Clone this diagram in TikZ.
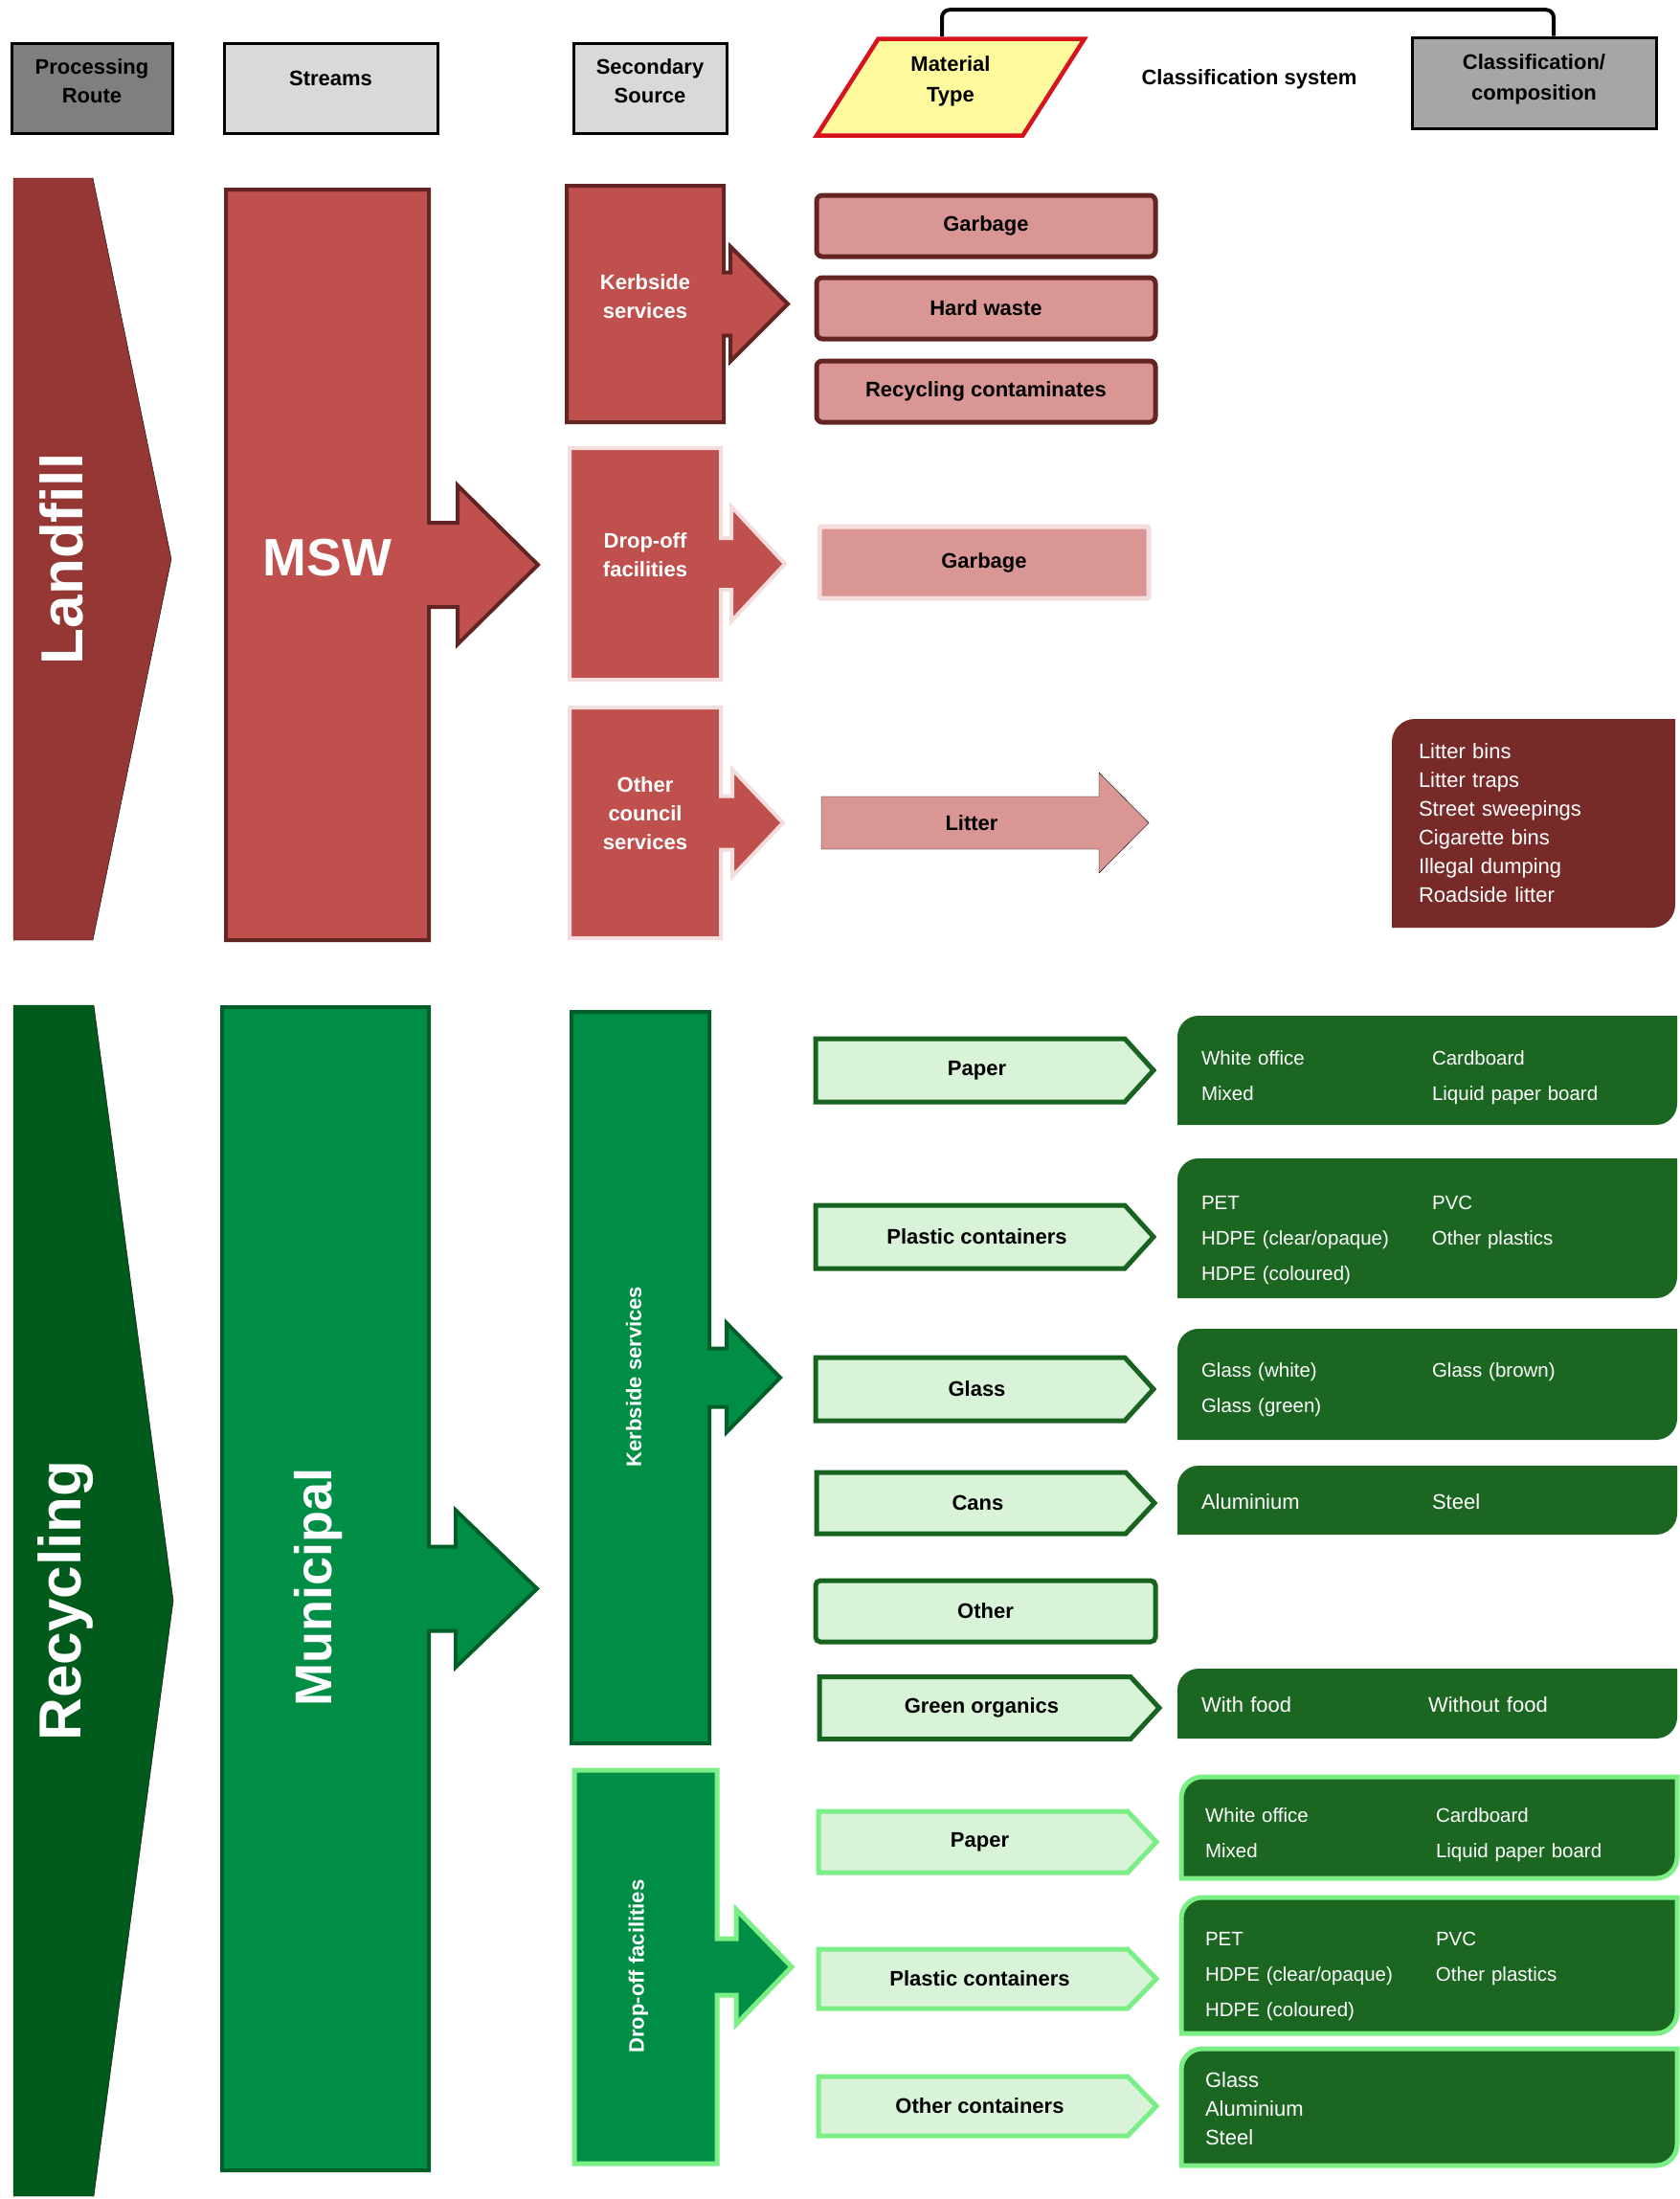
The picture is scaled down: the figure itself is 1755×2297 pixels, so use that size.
\documentclass[tikz,border=0pt]{standalone}
\usepackage{fontspec}
\setmainfont{Liberation Sans}
\usetikzlibrary{calc,shapes.geometric,backgrounds}

\definecolor{redmain}{HTML}{C0504D}
\definecolor{reddark}{HTML}{632523}
\definecolor{redpink}{HTML}{D99694}
\definecolor{redglow}{HTML}{F4DEDD}
\definecolor{landred}{HTML}{953735}
\definecolor{litterbrown}{HTML}{772A28}
\definecolor{recydark}{HTML}{005A1C}
\definecolor{greenmain}{HTML}{008E47}
\definecolor{greendark}{HTML}{005E28}
\definecolor{chevfill}{HTML}{D8F3D8}
\definecolor{chevline}{HTML}{17631F}
\definecolor{glowgreen}{HTML}{7CEE86}
\definecolor{classgreen}{HTML}{1B6621}
\definecolor{graydark}{HTML}{7F7F7F}
\definecolor{graylight}{HTML}{D9D9D9}
\definecolor{graymid}{HTML}{A6A6A6}
\definecolor{matyellow}{HTML}{FFFA9E}
\definecolor{matred}{HTML}{D7141E}

% box with an arrow on its east side: node, style, stem half, head half, stem length, head length
\newcommand{\arrowout}[6]{%
  \draw[#2] (#1.north west) -- (#1.north east) -- ($(#1.east)+(0,-#3)$) -- ++(#5,0)
    -- ++(0,{-(#4-#3)}) -- ($(#1.east)+(#5+#6,0)$) -- ($(#1.east)+(#5,#4)$)
    -- ++(0,{-(#4-#3)}) -- ++(-#5,0) -- (#1.south east) -- (#1.south west) -- cycle;}
% box with a pointed east side: node, style, tip length
\newcommand{\pointout}[3]{%
  \draw[#2] (#1.north west) -- (#1.north east) -- ($(#1.east)+(#3,0)$) -- (#1.south east) -- (#1.south west) -- cycle;}
% box with rounded north west and south east corners: node, style, radius
\newcommand{\leafout}[3]{%
  \path[#2] (#1.south west) -- ($(#1.north west)+(0,#3)$)
    .. controls ($(#1.north west)+(0,0.45*#3)$) and ($(#1.north west)+(0.45*#3,0)$) .. ($(#1.north west)+(#3,0)$)
    -- (#1.north east) -- ($(#1.south east)+(0,-#3)$)
    .. controls ($(#1.south east)+(0,-0.45*#3)$) and ($(#1.south east)+(-0.45*#3,0)$) .. ($(#1.south east)+(-#3,0)$)
    -- cycle;}
% move a text block down without changing its size
\newcommand{\lowered}[2]{\raisebox{-#1}[\height][\depth]{#2}}

\begin{document}
\begin{tikzpicture}[x=1pt, y=-1pt,
  headbox/.style={draw=black, line width=3pt, minimum height=94pt, align=center, inner sep=0pt, text depth=14pt, font=\fontsize{22}{30}\selectfont\bfseries},
  plainbox/.style={rectangle, inner sep=0pt, outer sep=0pt, align=center},
  routetext/.style={text=white, inner sep=0pt, font=\fontsize{62}{70}\selectfont\bfseries},
  srctext/.style={plainbox, text=white, font=\fontsize{22}{30}\selectfont\bfseries},
  mattext/.style={font=\fontsize{22}{26}\selectfont\bfseries},
  redmat/.style={draw=reddark, fill=redpink, line width=5pt, rounded corners=6pt, inner sep=0pt, mattext},
  chev/.style={plainbox, mattext, execute at begin node={\hspace*{14pt}}},
  chevk/.style={fill=chevfill, draw=chevline, line width=5pt},
  chevd/.style={fill=chevfill, draw=glowgreen, line width=5pt},
  leafbody/.style={plainbox, align=left, text=white, text width=472pt, inner xsep=25pt, inner ysep=0pt, font=\fontsize{20.5}{37}\selectfont},
  redsrc/.style={fill=redmain, draw=reddark, line width=4pt},
  redsrcglow/.style={fill=redmain, draw=redglow, line width=4pt},
  greensrc/.style={fill=greenmain, draw=greendark, line width=4pt},
  greensrcglow/.style={fill=greenmain, draw=glowgreen, line width=5pt}
]
  \useasboundingbox (0,0) rectangle (1755,2297);

  % Header
  \node[headbox, fill=graydark, minimum width=168pt] (proute) at (96,92) {Processing\\Route};
  \node[headbox, fill=graylight, minimum width=223pt, text depth=20pt] (streams) at (345.5,92) {Streams};
  \node[headbox, fill=graylight, minimum width=160pt] (secsrc) at (679,92) {Secondary\\Source};
  \node[trapezium, trapezium left angle=61, trapezium right angle=119, trapezium stretches=true,
    draw=matred, fill=matyellow, line width=4.5pt, minimum width=280pt, minimum height=101pt,
    inner sep=0pt, align=center, text depth=16pt, font=\fontsize{22}{32}\selectfont\bfseries] (mattype) at (993,91) {Material\\Type};
  \node[font=\fontsize{22}{30}\selectfont\bfseries] (classsys) at (1305,83) {Classification system};
  \node[headbox, fill=graymid, minimum width=255pt, minimum height=95pt, text depth=11pt, font=\fontsize{22}{32}\selectfont\bfseries] (classcomp) at (1602.5,86.5) {Classification/\\composition};
  \draw[line width=4pt, rounded corners=8pt] ([xshift=-9pt]mattype.north) -- ++(0,-28) -| ([xshift=20.5pt]classcomp.north);

  % Landfill
  \node[plainbox, minimum width=83pt, minimum height=796pt] (landfill) at (55.5,584) {};
  \node[routetext, rotate=90] (landfilltxt) at (64,584) {Landfill};
  \node[plainbox, minimum width=212pt, minimum height=784pt, text depth=16pt, text=white, font=\fontsize{55}{60}\selectfont\bfseries] (msw) at (342,590) {MSW};

  \node[srctext, text depth=16pt, minimum width=164pt, minimum height=247pt] (kerbred) at (674,317.5) {Kerbside\\services};
  \node[srctext, text depth=18pt, minimum width=158pt, minimum height=242pt] (dropred) at (674,589) {Drop-off\\facilities};
  \node[srctext, text depth=19pt, minimum width=158pt, minimum height=241pt] (otherred) at (674,859.5) {Other\\council\\services};

  \node[redmat, minimum width=354pt, minimum height=64pt] (garbage) at (1030,236) {Garbage};
  \node[redmat, minimum width=354pt, minimum height=64pt] (hardwaste) at (1030,322) {Hard waste};
  \node[redmat, minimum width=354pt, minimum height=64pt] (recycont) at (1030,409) {Recycling contaminates};
  \node[redmat, draw=redglow, rounded corners=2pt, minimum width=344pt, minimum height=75pt] (garbagedrop) at (1028,587.5) {Garbage};
  \node[plainbox, mattext, minimum width=290pt, minimum height=55pt, execute at begin node={\hspace*{24pt}}] (litter) at (1003,859.5) {Litter};
  \node[leafbody, text width=240pt, inner xsep=28pt, minimum height=218pt, font=\fontsize{22}{30}\selectfont] (litterclass) at (1602,860)
    {Litter bins\\Litter traps\\Street sweepings\\Cigarette bins\\Illegal dumping\\Roadside litter};

  % Recycling
  \node[plainbox, minimum width=84pt, minimum height=1244pt] (recycling) at (56,1672) {};
  \node[routetext, rotate=90] (recyclingtxt) at (69,1672) {Recycling};
  \node[plainbox, minimum width=216pt, minimum height=1215pt] (municipal) at (340,1659.5) {};
  \node[routetext, rotate=90, font=\fontsize{54}{60}\selectfont\bfseries] (municipaltxt) at (333,1658) {Municipal};
  \node[plainbox, minimum width=144pt, minimum height=764pt] (kerbgreen) at (669,1439) {};
  \node[srctext, rotate=90] (kerbgreentxt) at (662,1438) {Kerbside services};
  \node[plainbox, minimum width=149pt, minimum height=411pt] (dropgreen) at (674.5,2054.5) {};
  \node[srctext, rotate=90] (dropgreentxt) at (667,2054) {Drop-off facilities};

  \node[chev, minimum width=323pt, minimum height=66pt] (paperk) at (1013.5,1118) {Paper};
  \node[chev, minimum width=323pt, minimum height=66pt] (plastick) at (1013.5,1292) {Plastic containers};
  \node[chev, minimum width=323pt, minimum height=66pt] (glassk) at (1013.5,1451) {Glass};
  \node[chev, minimum width=323pt, minimum height=64pt] (cansk) at (1014.5,1570) {Cans};
  \node[mattext, fill=chevfill, draw=chevline, line width=5pt, rounded corners=5pt, minimum width=355pt, minimum height=64pt] (otherk) at (1029.5,1683) {Other};
  \node[chev, minimum width=325pt, minimum height=65pt] (organicsk) at (1018.5,1784) {Green organics};
  \node[chev, minimum width=323pt, minimum height=64pt] (paperd) at (1016.5,1924) {Paper};
  \node[chev, minimum width=323pt, minimum height=62pt] (plasticd) at (1016.5,2067) {Plastic containers};
  \node[chev, minimum width=323pt, minimum height=62pt] (othercontd) at (1016.5,2200) {Other containers};

  \node[leafbody, minimum width=522pt, minimum height=114pt] (paperkcls) at (1491,1118)
    {\lowered{6pt}{\begin{tabular}{@{}p{241pt}@{}l@{}}White office & Cardboard\\Mixed & Liquid paper board\end{tabular}}};
  \node[leafbody, minimum width=522pt, minimum height=146pt] (plastickcls) at (1491,1283)
    {\lowered{10pt}{\begin{tabular}{@{}p{241pt}@{}l@{}}PET & PVC\\HDPE (clear/opaque) & Other plastics\\HDPE (coloured) & \end{tabular}}};
  \node[leafbody, minimum width=522pt, minimum height=116pt] (glasskcls) at (1491,1446)
    {\lowered{4pt}{\begin{tabular}{@{}p{241pt}@{}l@{}}Glass (white) & Glass (brown)\\Glass (green) & \end{tabular}}};
  \node[leafbody, minimum width=522pt, minimum height=72pt, font=\fontsize{22}{30}\selectfont] (canskcls) at (1491,1567)
    {\lowered{3pt}{\begin{tabular}{@{}p{241pt}@{}l@{}}Aluminium & Steel\end{tabular}}};
  \node[leafbody, minimum width=522pt, minimum height=73pt, font=\fontsize{22}{30}\selectfont] (organicskcls) at (1491,1779.5)
    {\lowered{3pt}{\begin{tabular}{@{}p{237pt}@{}l@{}}With food & Without food\end{tabular}}};
  \node[leafbody, text width=468pt, minimum width=518pt, minimum height=106pt] (paperdcls) at (1493,1909)
    {\lowered{6pt}{\begin{tabular}{@{}p{241pt}@{}l@{}}White office & Cardboard\\Mixed & Liquid paper board\end{tabular}}};
  \node[leafbody, text width=468pt, minimum width=518pt, minimum height=142pt] (plasticdcls) at (1493,2053)
    {\lowered{9pt}{\begin{tabular}{@{}p{241pt}@{}l@{}}PET & PVC\\HDPE (clear/opaque) & Other plastics\\HDPE (coloured) & \end{tabular}}};
  \node[leafbody, text width=468pt, minimum width=518pt, minimum height=122pt, font=\fontsize{22}{30}\selectfont] (othercontdcls) at (1493,2201)
    {\lowered{3pt}{\begin{tabular}{@{}l@{}}Glass\\Aluminium\\Steel\end{tabular}}};

  % Outlines behind the texts
  \begin{scope}[on background layer]
    \pointout{landfill}{fill=landred}{82}
    \arrowout{msw}{redsrc}{44}{83}{30}{84}
    \arrowout{kerbred}{redsrc}{33}{60}{7}{60}
    \arrowout{dropred}{redsrcglow}{27}{60}{11}{56}
    \arrowout{otherred}{redsrcglow}{28}{56}{12}{53}
    \arrowout{litter}{fill=redpink}{27.5}{52.5}{0}{52}
    \leafout{litterclass}{fill=litterbrown}{24}

    \pointout{recycling}{fill=recydark}{83}
    \arrowout{municipal}{greensrc}{44}{82}{28}{85}
    \arrowout{kerbgreen}{greensrc}{30.5}{57}{18}{56}
    \arrowout{dropgreen}{greensrcglow}{29.5}{60}{20}{58}

    \pointout{paperk}{chevk}{30}
    \pointout{plastick}{chevk}{30}
    \pointout{glassk}{chevk}{30}
    \pointout{cansk}{chevk}{30}
    \pointout{organicsk}{chevk}{30}
    \pointout{paperd}{chevd}{30}
    \pointout{plasticd}{chevd}{30}
    \pointout{othercontd}{chevd}{30}

    \leafout{paperkcls}{fill=classgreen}{22}
    \leafout{plastickcls}{fill=classgreen}{22}
    \leafout{glasskcls}{fill=classgreen}{22}
    \leafout{canskcls}{fill=classgreen}{22}
    \leafout{organicskcls}{fill=classgreen}{22}
    \leafout{paperdcls}{fill=classgreen, draw=glowgreen, line width=5pt}{22}
    \leafout{plasticdcls}{fill=classgreen, draw=glowgreen, line width=5pt}{22}
    \leafout{othercontdcls}{fill=classgreen, draw=glowgreen, line width=5pt}{22}
  \end{scope}
\end{tikzpicture}
\end{document}
